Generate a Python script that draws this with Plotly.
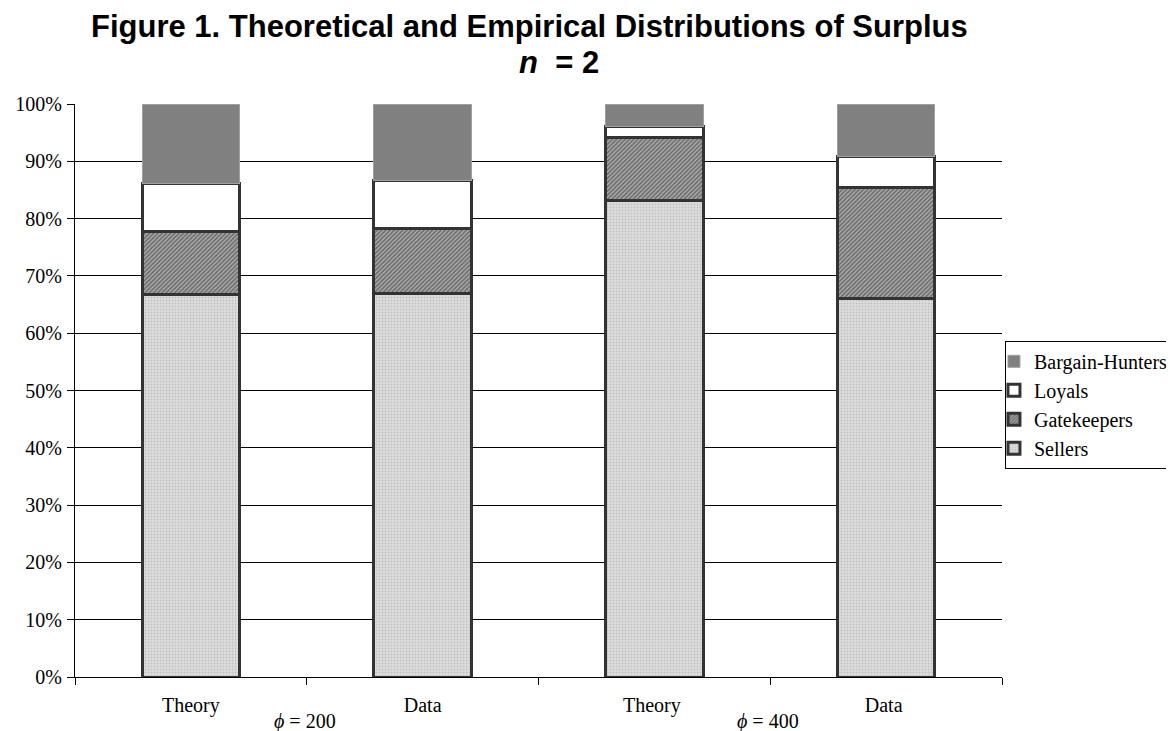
import plotly.graph_objects as go

categories = ["Theory", "Data", "Theory ", "Data "]
sellers = [0.667, 0.669, 0.832, 0.660]
gatekeepers = [0.111, 0.113, 0.110, 0.195]
loyals = [0.084, 0.085, 0.018, 0.054]
bargain_hunters = [0.138, 0.133, 0.040, 0.091]
group_labels = ["<i>ϕ</i> = 200", "<i>ϕ</i> = 400"]
group_positions = [0.5, 2.5]
y_ticks = [0, 0.1, 0.2, 0.3, 0.4, 0.5, 0.6, 0.7, 0.8, 0.9, 1.0]
title_line1 = "<b>Figure 1. Theoretical and Empirical Distributions of Surplus</b>"
title_line2 = "<b><i>n</i>\u00a0\u00a0= 2</b>"

serif = "Liberation Serif"
sans = "Liberation Sans"
edge = "#333333"

fig = go.Figure()
fig.add_trace(go.Bar(
    name="Sellers", x=categories, y=sellers, legendrank=4,
    marker=dict(color="#dcdcdc", line=dict(color=edge, width=3),
                pattern=dict(shape=".", fgcolor="#a0a0a0", bgcolor="#dedede", size=3, solidity=0.35)),
))
fig.add_trace(go.Bar(
    name="Gatekeepers", x=categories, y=gatekeepers, legendrank=3,
    marker=dict(color="white", line=dict(color=edge, width=3),
                pattern=dict(shape="/", fgcolor="#262626", bgcolor="#b4b4b4", size=3, solidity=0.6)),
))
fig.add_trace(go.Bar(
    name="Loyals", x=categories, y=loyals, legendrank=2,
    marker=dict(color="white", line=dict(color=edge, width=3)),
))
fig.add_trace(go.Bar(
    name="Bargain-Hunters", x=categories, y=bargain_hunters, legendrank=1,
    marker=dict(color="#808080", line=dict(color="#a0a0a0", width=1)),
))

fig.update_layout(
    barmode="stack",
    bargap=0.58,
    width=1166, height=723,
    paper_bgcolor="white", plot_bgcolor="white",
    margin=dict(l=67, r=172, t=96, b=54, autoexpand=False),
    legend=dict(
        traceorder="normal",
        x=1.0032, xanchor="left", y=0.475, yanchor="middle",
        xref="paper", yref="paper",
        bordercolor="#000", borderwidth=1,
        font=dict(family=serif, size=20, color="black"),
        itemwidth=30, indentation=-12,
    ),
    font=dict(family=serif, size=20, color="black"),
)

fig.update_yaxes(
    range=[0, 1], tickvals=y_ticks, tickformat=".0%",
    showgrid=True, gridcolor="#000", gridwidth=1,
    showline=True, linecolor="#000", linewidth=1,
    ticks="outside", ticklen=7, tickcolor="#000",
    ticklabelstandoff=1, automargin=False,
    tickfont=dict(family=serif, size=20, color="black"),
    zeroline=False,
)
fig.update_xaxes(
    showline=True, linecolor="#000", linewidth=1,
    ticks="outside", ticklen=7, tickcolor="#000", tickson="boundaries",
    ticklabelstandoff=10, automargin=False,
    tickfont=dict(family=serif, size=20, color="black"),
    showgrid=False,
)

for gx, lab in zip(group_positions, group_labels):
    fig.add_annotation(
        text=lab, x=gx, y=0, xref="x", yref="paper", yshift=-44, xshift=-2,
        xanchor="center", yanchor="middle", showarrow=False,
        font=dict(family=serif, size=20, color="black"),
    )

fig.add_annotation(
    text=title_line1, x=(521 - 67) / 927, y=(669 - 19) / 573, xref="paper", yref="paper",
    xanchor="center", yanchor="middle", showarrow=False,
    font=dict(family=sans, size=31, color="black"),
)
fig.add_annotation(
    text=title_line2, x=(551 - 67) / 927, y=(669 - 54) / 573, xref="paper", yref="paper",
    xanchor="center", yanchor="middle", showarrow=False,
    font=dict(family=sans, size=31, color="black"),
)

fig.write_html("out.html")
